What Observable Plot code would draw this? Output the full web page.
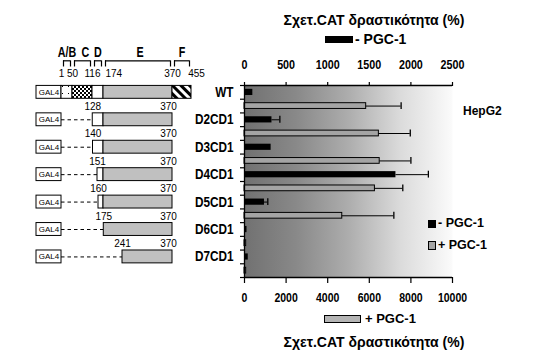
<!DOCTYPE html>
<html><head><meta charset="utf-8">
<script src="https://cdn.jsdelivr.net/npm/d3@7"></script>
<script src="https://cdn.jsdelivr.net/npm/@observablehq/plot@0.6"></script>
<style>
body{margin:0;background:#fff}
#wrap{position:relative;width:540px;height:355px;overflow:hidden;font-family:"Liberation Sans",Arial,sans-serif;color:#000}
#wrap svg{position:absolute;left:0;top:0}
.t{position:absolute;white-space:nowrap;font-weight:bold}
.box{position:absolute;border:1px solid #000;box-sizing:border-box}
</style></head><body><div id="wrap"></div>
<script>
// ---------- data ----------
const categories = ["WT","D2CD1","D3CD1","D4CD1","D5CD1","D6CD1","D7CD1"];
const minusPGC    = [100, 330, 320, 1820, 240, 30, 45];     // top scale (0-2500)
const minusPGCErr = [null, 425, null, 2210, 280, null, null];
const plusPGC     = [5850, 6460, 6500, 6270, 4700, 80, 80];  // bottom scale (0-10000)
const plusPGCErr  = [7530, 7970, 8000, 7610, 7180, null, null];
const topTicks    = [0, 500, 1000, 1500, 2000, 2500];
const bottomTicks = [0, 2000, 4000, 6000, 8000, 10000];
// constructs (amino-acid numbering)
const constructStart = [1, 128, 140, 151, 160, 175, 241];
const constructEnd   = [455, 370, 370, 370, 370, 370, 370];
const domainNames  = ["A/B", "C", "D", "E", "F"];
const domainBounds = [1, 50, 116, 174, 370, 455];

// ---------- styles ----------
const sans = '"Liberation Sans",Arial,sans-serif';
const fillMap = {"A/B": "url(#dots)", "C": "url(#checker)", "D": "white", "E": "#c0c0c0", "F": "url(#hatch)"};
const W = 540, H = 355;
const frame = {width: W, height: H, marginTop: 85, marginRight: 88, marginBottom: 78, marginLeft: 244};
const svgStyle = {background: "none", overflow: "visible", fontFamily: sans, fontSize: "12.5px", fontWeight: "bold"};
const fmt = d => String(d);

// squeeze text horizontally (condensed look of the original typeface)
function squeeze(nodes, k) {
  nodes.each(function () {
    let t = this.getAttribute("transform");
    if (!t) {
      const x = this.getAttribute("x") || 0, y = this.getAttribute("y") || 0;
      this.removeAttribute("x"); this.removeAttribute("y");
      t = `translate(${x},${y})`;
    }
    this.setAttribute("transform", t + ` scale(${k},1)`);
  });
}

const rows = categories.map((c, i) => ({
  c, i, minus: minusPGC[i], minusErr: minusPGCErr[i], plus: plusPGC[i], plusErr: plusPGCErr[i],
  rm: 2 * i, rp: 2 * i + 1
}));

// ---------- gray (+PGC-1) plot, bottom axis ----------
const grayPlot = Plot.plot({
  ...frame,
  style: svgStyle,
  x: {domain: [0, 10000], label: null},
  y: {domain: [0, 14], reverse: true, label: null},
  marks: [
    Plot.frame({fill: "url(#bggrad)", stroke: "none"}),
    Plot.rect(rows, {x1: () => 0, x2: "plus", y1: d => d.rp + 0.29, y2: d => d.rp + 0.71, fill: "#a4a4a4", stroke: "black", strokeWidth: 1}),
    Plot.ruleY(rows.filter(d => d.plusErr != null), {x1: "plus", x2: "plusErr", y: d => d.rp + 0.5, stroke: "black"}),
    Plot.ruleX(rows.filter(d => d.plusErr != null), {x: "plusErr", y1: d => d.rp + 0.25, y2: d => d.rp + 0.75, stroke: "black", strokeWidth: 1.3}),
    Plot.ruleX([0], {stroke: "black", strokeWidth: 1.3}),
    Plot.ruleY([14], {stroke: "black", strokeWidth: 1.3}),
    Plot.axisY(d3.range(15), {tickSize: 4, tickFormat: () => "", label: null, strokeWidth: 1.2}),
    Plot.axisX(bottomTicks, {anchor: "bottom", tickSize: 6, tickPadding: 10, tickFormat: fmt, label: null, strokeWidth: 1.2, fontSize: 12.5}),
    Plot.text(rows, {x: () => 0, y: d => d.rm + 0.5, text: "c", textAnchor: "end", dx: -11, fontSize: 14, fontWeight: "bold", letterSpacing: 0.6})
  ]
});
d3.select(grayPlot).insert("defs", ":first-child").html(`
  <linearGradient id="bggrad" x1="0" x2="1" y1="0" y2="0">
    <stop offset="0" stop-color="#717171"/>
    <stop offset="0.25" stop-color="#898989"/>
    <stop offset="0.5" stop-color="#adadad"/>
    <stop offset="0.75" stop-color="#dbdbdb"/>
    <stop offset="1" stop-color="#fbfbfb"/>
  </linearGradient>`);
squeeze(d3.select(grayPlot).selectAll("text"), 0.84);

// ---------- black (-PGC-1) plot, top axis ----------
const blackPlot = Plot.plot({
  ...frame,
  style: svgStyle,
  x: {domain: [0, 2500], label: null},
  y: {domain: [0, 14], reverse: true, axis: null},
  marks: [
    Plot.rect(rows, {x1: () => 0, x2: "minus", y1: d => d.rm + 0.28, y2: d => d.rm + 0.73, fill: "black"}),
    Plot.ruleY(rows.filter(d => d.minusErr != null), {x1: "minus", x2: "minusErr", y: d => d.rm + 0.5, stroke: "black"}),
    Plot.ruleX(rows.filter(d => d.minusErr != null), {x: "minusErr", y1: d => d.rm + 0.25, y2: d => d.rm + 0.75, stroke: "black", strokeWidth: 1.3}),
    Plot.ruleY([0], {stroke: "black", strokeWidth: 1.3}),
    Plot.axisX(topTicks, {anchor: "top", tickSize: 4, tickPadding: 13, tickFormat: fmt, label: null, strokeWidth: 1.2, fontSize: 12.5})
  ]
});
squeeze(d3.select(blackPlot).selectAll("text"), 0.86);

// ---------- construct schematic ----------
const aaStops = [1, 50, 116, 140, 151, 160, 174, 241, 370, 455];
const pxStops = [61, 72, 92, 92.5, 97, 98, 103, 122, 172, 191];
const sx = Plot.scale({x: {type: "linear", domain: aaStops, range: pxStops}});
const aaShift = (a, px) => sx.invert(sx.apply(a) + px);

const conRows = constructStart.map((s, i) => ({i, start: s, end: constructEnd[i], yc: 2 * i + 0.5}));
const delRows = conRows.slice(1);
const segs = [];
conRows.forEach(r => {
  if (r.i === 0) {
    domainNames.forEach((n, k) => segs.push({yc: r.yc, a: domainBounds[k], b: domainBounds[k + 1], kind: n}));
  } else {
    if (r.start < domainBounds[3]) segs.push({yc: r.yc, a: r.start, b: domainBounds[3], kind: "D"});
    segs.push({yc: r.yc, a: Math.max(r.start, domainBounds[3]), b: r.end, kind: "E"});
  }
});
const brackets = domainNames.map((n, k) => ({
  n, a: domainBounds[k], b: domainBounds[k + 1],
  mid: sx.invert((sx.apply(domainBounds[k]) + sx.apply(domainBounds[k + 1])) / 2 + (n === "C" ? 3 : n === "E" ? 2 : 0)),
  a2: aaShift(domainBounds[k], 2), b2: aaShift(domainBounds[k + 1], -2)
}));
const headNums = domainBounds.map(v => ({v}));
const yLetter = -2.4, yBrTop = -1.8, yBrBot = -1.35, yNum = -0.88;

const schematic = Plot.plot({
  width: W, height: H, marginTop: 85, marginBottom: 78,
  style: {background: "none", overflow: "visible", fontFamily: sans, fontSize: "10px"},
  x: {type: "linear", domain: aaStops, range: pxStops, axis: null},
  y: {domain: [0, 14], reverse: true, axis: null},
  color: {type: "identity"},
  marks: [
    Plot.ruleY(delRows, {x1: () => 1, x2: "start", y: "yc", stroke: "black", strokeDasharray: "3.5,3"}),
    Plot.rect(conRows, {x1: () => 1, x2: () => 1, insetLeft: -25, y1: d => d.yc - 0.47, y2: d => d.yc + 0.47, fill: "white", stroke: "black"}),
    Plot.text(conRows, {x: () => 1, y: "yc", dx: -12.5, text: () => "GAL4", fontSize: 8}),
    Plot.rect(segs, {x1: "a", x2: "b", y1: d => d.yc - 0.47, y2: d => d.yc + 0.47, fill: d => fillMap[d.kind], stroke: "black"}),
    Plot.text(delRows, {x: "start", y: d => d.yc - 0.95, text: d => String(d.start), fontSize: 10}),
    Plot.text(delRows, {x: "end", y: d => d.yc - 0.95, dx: -4, text: d => String(d.end), fontSize: 10}),
    // header
    Plot.text(brackets, {x: "mid", y: () => yLetter, text: "n", fontSize: 14.5, fontWeight: "bold"}),
    Plot.ruleY(brackets, {x1: "a2", x2: "b2", y: () => yBrTop, stroke: "black", strokeWidth: 1.2}),
    Plot.ruleX(brackets, {x: "a2", y1: () => yBrTop, y2: () => yBrBot, stroke: "black", strokeWidth: 1.2}),
    Plot.ruleX(brackets, {x: "b2", y1: () => yBrTop, y2: () => yBrBot, stroke: "black", strokeWidth: 1.2}),
    Plot.text(headNums.filter(d => d.v !== 174 && d.v !== 455), {x: "v", y: () => yNum, text: d => String(d.v), fontSize: 10}),
    Plot.text(headNums.filter(d => d.v === 174), {x: "v", y: () => yNum, text: d => String(d.v), textAnchor: "start", dx: 2, fontSize: 10}),
    Plot.text(headNums.filter(d => d.v === 455), {x: "v", y: () => yNum, text: d => String(d.v), dx: 5, fontSize: 10})
  ]
});
d3.select(schematic).insert("defs", ":first-child").html(`
  <pattern id="dots" patternUnits="userSpaceOnUse" width="6" height="7">
    <rect width="6" height="7" fill="white"/><rect x="2" y="2" width="1" height="1" fill="black"/>
  </pattern>
  <pattern id="checker" patternUnits="userSpaceOnUse" width="4" height="4">
    <rect width="4" height="4" fill="white"/><rect width="2" height="2" fill="black"/><rect x="2" y="2" width="2" height="2" fill="black"/>
  </pattern>
  <pattern id="hatch" patternUnits="userSpaceOnUse" width="6" height="6" patternTransform="rotate(-45)">
    <rect width="6" height="6" fill="white"/><rect width="3" height="6" fill="black"/>
  </pattern>`);
squeeze(d3.select(schematic).selectAll('g[font-weight="bold"] text'), 0.74);

const wrap = document.getElementById("wrap");
wrap.append(grayPlot, blackPlot, schematic);

// ---------- titles & legends ----------
const html = (s) => wrap.insertAdjacentHTML("beforeend", s);
const title = "Σχετ.CAT δραστικότητα (%)";
html(`<div class="t" style="left:374px;top:12px;transform:translateX(-50%);font-size:14px;line-height:16px">${title}</div>`);
html(`<div class="box" style="left:325px;top:36px;width:28px;height:7px;background:#000"></div>`);
html(`<div class="t" style="left:355px;top:31px;font-size:14px;line-height:16px">- PGC-1</div>`);
html(`<div class="box" style="left:324px;top:315px;width:37px;height:8px;background:#b4b4b4"></div>`);
html(`<div class="t" style="left:365px;top:311px;font-size:13px;line-height:15px">+ PGC-1</div>`);
html(`<div class="t" style="left:374px;top:334px;transform:translateX(-50%);font-size:14px;line-height:16px">${title}</div>`);
html(`<div class="t" style="left:463px;top:104px;font-size:12px;line-height:14px">HepG2</div>`);
html(`<div class="box" style="left:428px;top:220px;width:8px;height:8px;background:#000"></div>`);
html(`<div class="t" style="left:438px;top:216px;font-size:12.5px;line-height:15px">- PGC-1</div>`);
html(`<div class="box" style="left:428px;top:241px;width:8px;height:9px;background:#a4a4a4"></div>`);
html(`<div class="t" style="left:438px;top:238px;font-size:12.5px;line-height:15px">+ PGC-1</div>`);
</script></body></html>
